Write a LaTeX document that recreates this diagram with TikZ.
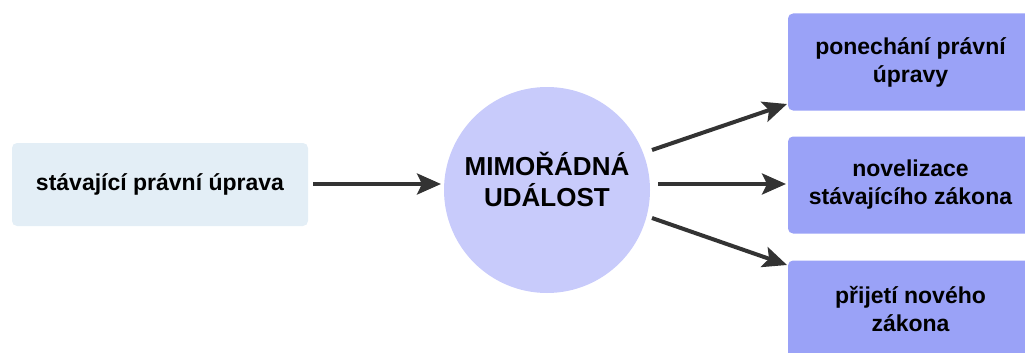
\documentclass[tikz,border=0pt]{standalone}
\usepackage{fontspec}
\setmainfont{Liberation Sans}
\usetikzlibrary{arrows.meta}
\definecolor{leftbox}{HTML}{E3EEF6}
\definecolor{circ}{HTML}{C8CBFB}
\definecolor{rbox}{HTML}{9AA2F7}
\definecolor{arr}{HTML}{333333}
\tikzset{
  txt/.style={font=\bfseries\fontsize{23}{28}\selectfont, text=black, align=center},
  lbox/.style={txt, fill=leftbox, rounded corners=5pt, minimum width=296pt, minimum height=83pt, inner sep=0pt},
  rboxst/.style={txt, fill=rbox, rounded corners=5pt, minimum width=245pt, minimum height=97pt, inner sep=0pt},
  event/.style={circle, fill=circ, minimum size=206pt, inner sep=0pt, align=center, text depth=22pt, font=\bfseries\fontsize{26}{31}\selectfont},
  conn/.style={draw=arr, line width=4pt, -{Stealth[length=24pt,width=21pt,inset=5pt]}}
}
\begin{document}
\begin{tikzpicture}[x=1pt,y=-1pt]
\useasboundingbox (0,0) rectangle (1025,353);
\clip (0,0) rectangle (1025,353);
\node[lbox] (src) at (160,184.5) {stávající právní úprava};
\node[event] (ev) at (547,190) {MIMOŘÁDNÁ\\UDÁLOST};
\node[rboxst] (r1) at (910.5,62) {ponechání právní\\úpravy};
\node[rboxst] (r2) at (910.5,185) {novelizace\\stávajícího zákona};
\node[rboxst] (r3) at (910.5,309) {přijetí nového\\zákona};
\coordinate (a0s) at (313,184);
\coordinate (a0e) at (441,184);
\coordinate (a1s) at (652,150);
\coordinate (a1e) at (787,104);
\coordinate (a2s) at (658,184);
\coordinate (a2e) at (786,184);
\coordinate (a3s) at (652,218);
\coordinate (a3e) at (787,265);
\draw[conn] (a0s) -- (a0e);
\draw[conn] (a1s) -- (a1e);
\draw[conn] (a2s) -- (a2e);
\draw[conn] (a3s) -- (a3e);
\end{tikzpicture}
\end{document}
